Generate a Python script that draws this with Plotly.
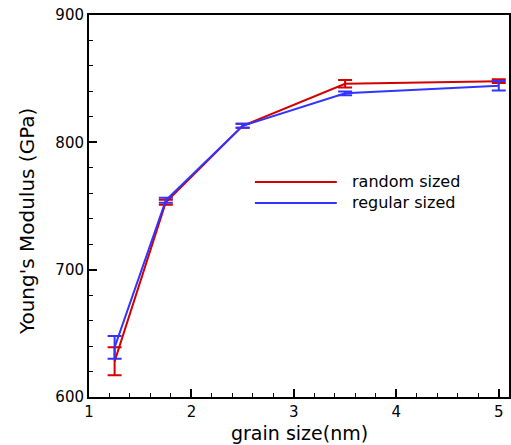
import plotly.graph_objects as go

grain_size = [1.25, 1.75, 2.5, 3.5, 5.0]
random_mean = [628, 753, 813, 846, 848]
random_err = [11, 2, 1.5, 3, 1.5]
regular_mean = [639, 754.5, 813, 838.5, 844.5]
regular_err = [9, 2, 1.5, 1.5, 3.7]

RED = "#d40000"
BLUE = "#3333ff"
FONT = "DejaVu Sans, Arial, sans-serif"

fig = go.Figure()
fig.add_trace(go.Scatter(x=grain_size, y=random_mean, mode="lines", name="random sized",
                         line=dict(color=RED, width=2),
                         error_y=dict(type="data", array=random_err, color=RED, thickness=2, width=7)))
fig.add_trace(go.Scatter(x=grain_size, y=regular_mean, mode="lines", name="regular sized",
                         line=dict(color=BLUE, width=2),
                         error_y=dict(type="data", array=regular_err, color=BLUE, thickness=2, width=7)))

# manual legend
legend_items = [("random sized", RED, 0.563), ("regular sized", BLUE, 0.508)]
for label, col, yy in legend_items:
    fig.add_shape(type="line", xref="paper", yref="paper", x0=0.395, x1=0.59, y0=yy, y1=yy,
                  line=dict(color=col, width=2))
    fig.add_annotation(xref="paper", yref="paper", x=0.622, y=yy, text=label, showarrow=False,
                       xanchor="left", yanchor="middle", font=dict(size=16, color="black", family=FONT))

# axis titles
fig.add_annotation(xref="paper", yref="paper", x=0.502, y=-0.094, text="grain size(nm)",
                   showarrow=False, xanchor="center", yanchor="middle",
                   font=dict(size=19, color="black", family=FONT))
fig.add_annotation(xref="paper", yref="paper", x=-0.148, y=0.46, text="Young's Modulus (GPa)",
                   showarrow=False, xanchor="center", yanchor="middle", textangle=-90,
                   font=dict(size=20, color="black", family=FONT))

axis_common = dict(showline=True, linecolor="black", linewidth=2, mirror=True, ticks="inside",
                   ticklen=8, tickwidth=2, tickcolor="black", showgrid=False, zeroline=False,
                   automargin=False, ticklabeloverflow="allow",
                   tickfont=dict(size=15, color="black", family=FONT))
fig.update_xaxes(range=[1, 5.1], dtick=1, tick0=1,
                 minor=dict(dtick=0.2, ticks="inside", ticklen=4, tickwidth=1, tickcolor="black"),
                 **axis_common)
fig.update_yaxes(range=[600, 900], dtick=100,
                 minor=dict(dtick=20, ticks="inside", ticklen=4, tickwidth=1, tickcolor="black"),
                 **axis_common)
fig.update_layout(width=511, height=445, margin=dict(l=89, r=2, t=15, b=48),
                  plot_bgcolor="white", paper_bgcolor="white", showlegend=False,
                  font=dict(family=FONT, color="black"))
fig.write_html("out.html", config={"displayModeBar": False},
               post_script="document.body.style.margin='0px';")
